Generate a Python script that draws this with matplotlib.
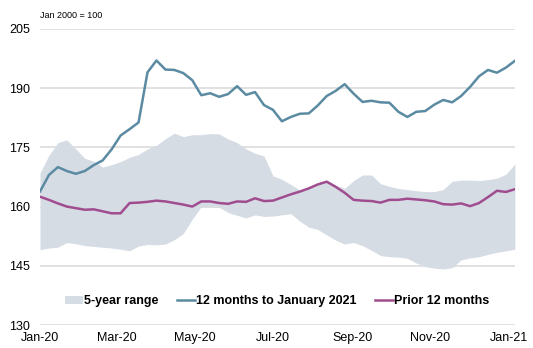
import numpy as np
import pandas as pd
import matplotlib
matplotlib.use("Agg")
import matplotlib.pyplot as plt
import matplotlib.dates as mdates

plt.rcParams['font.family'] = ['Liberation Sans', 'DejaVu Sans']

# weekly observations from 1 Jan 2020 (index, Jan 2000 = 100)
dates = pd.date_range("2020-01-01", periods=54, freq="7D")

recent = [163.8, 168.0, 170.0, 169.0, 168.3, 169.0, 170.5, 171.7, 174.5, 178.0,
          179.6, 181.3, 194.0, 197.0, 194.7, 194.6, 193.8, 192.0, 188.2, 188.7,
          187.8, 188.5, 190.5, 188.3, 189.0, 185.7, 184.5, 181.6, 182.7, 183.5,
          183.6, 185.6, 188.0, 189.3, 191.0, 188.6, 186.5, 186.8, 186.4, 186.3,
          184.0, 182.7, 184.0, 184.2, 185.8, 187.0, 186.4, 188.0, 190.3, 193.0,
          194.6, 193.9, 195.2, 196.9]

prior = [162.5, 161.7, 160.8, 160.0, 159.6, 159.2, 159.3, 158.8, 158.3, 158.3,
         160.9, 161.0, 161.2, 161.5, 161.3, 160.9, 160.5, 160.0, 161.3, 161.3,
         160.9, 160.7, 161.3, 161.2, 162.1, 161.4, 161.5, 162.3, 163.1, 163.8,
         164.6, 165.6, 166.3, 165.0, 163.5, 161.7, 161.5, 161.4, 161.0, 161.7,
         161.7, 162.0, 161.8, 161.6, 161.3, 160.6, 160.5, 160.8, 160.1, 160.9,
         162.4, 164.0, 163.7, 164.4]

range_high = [168.5, 173.0, 176.2, 176.9, 174.6, 172.2, 171.5, 170.0, 170.6, 171.4,
              172.5, 173.2, 174.6, 175.5, 177.2, 178.6, 177.7, 178.2, 178.2, 178.5,
              178.4, 177.1, 176.2, 174.6, 173.5, 172.8, 167.8, 166.9, 165.6, 164.2,
              165.0, 166.0, 166.7, 165.4, 164.6, 166.6, 168.0, 168.0, 165.8, 165.1,
              164.6, 164.3, 164.0, 163.8, 163.8, 164.3, 166.4, 166.7, 166.7, 166.6,
              166.8, 167.2, 168.2, 170.8]

range_low = [149.1, 149.5, 149.7, 150.9, 150.6, 150.1, 149.9, 149.7, 149.5, 149.2,
             148.8, 150.0, 150.4, 150.3, 150.5, 151.6, 153.2, 156.8, 160.0, 160.0,
             159.8, 158.5, 157.8, 157.1, 157.9, 157.5, 157.6, 157.9, 158.2, 156.3,
             154.8, 154.2, 152.8, 151.5, 150.5, 150.9, 150.1, 148.9, 147.6, 147.3,
             147.2, 146.9, 145.7, 144.8, 144.4, 144.2, 144.5, 146.5, 147.0, 147.3,
             147.9, 148.4, 148.8, 149.2]

yticks = [130, 145, 160, 175, 190, 205]
xticks = pd.to_datetime(["2020-01-01", "2020-03-01", "2020-05-01", "2020-07-01",
                         "2020-09-01", "2020-11-01", "2021-01-01"])

fig = plt.figure(figsize=(5.33, 3.48), dpi=100)
ax = fig.add_axes([0.075, 0.066, 0.891, 0.851])

ax.fill_between(dates, range_low, range_high, color="#d6dce4", lw=0,
                label="5-year range")
ax.plot(dates, recent, color="#5b8ba2", lw=1.8, label="12 months to January 2021")
ax.plot(dates, prior, color="#a04d90", lw=1.8, label="Prior 12 months")

ax.set_ylim(130, 205)
ax.set_yticks(yticks)
ax.set_xlim(pd.Timestamp("2020-01-01"), pd.Timestamp("2021-01-06"))
ax.set_xticks(xticks)
ax.xaxis.set_major_formatter(mdates.DateFormatter("%b-%y"))

ax.grid(axis="y", color="#d9d9d9", lw=1.1)
ax.set_axisbelow(True)
for s in ax.spines.values():
    s.set_visible(False)
ax.tick_params(length=0, labelsize=9, colors="black")
ax.tick_params(axis="y", pad=7)
ax.tick_params(axis="x", pad=5)

ax.legend(loc="center", bbox_to_anchor=(0.5, 0.08), ncol=3, frameon=False,
          prop={"weight": "bold", "size": 9}, handlelength=1.4,
          handletextpad=0.1, columnspacing=1.5, handleheight=0.7)

fig.text(0.075, 0.955, "Jan 2000 = 100", fontsize=6.5, va="center")

fig.savefig("out.png", dpi=100)
